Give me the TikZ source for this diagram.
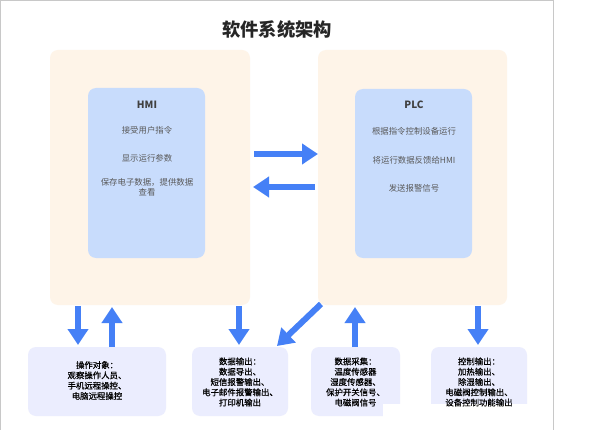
\documentclass[tikz,border=0pt]{standalone}
\usepackage{fontspec}
\setmainfont{Noto Sans CJK SC}
\newfontfamily\botfont[FakeBold=0.6]{Noto Sans CJK SC}
\usetikzlibrary{arrows.meta}
\definecolor{peach}{HTML}{FEF4E8}
\definecolor{lblue}{HTML}{C8DCFC}
\definecolor{lav}{HTML}{EBEDFE}
\definecolor{arr}{HTML}{4580F6}
\definecolor{frame}{HTML}{C8C8C8}
\tikzset{
  outerbox/.style={fill=peach, rounded corners=8pt, inner sep=0pt},
  innerbox/.style={fill=lblue, rounded corners=8pt, inner sep=0pt},
  botbox/.style={fill=lav, rounded corners=8pt, inner sep=0pt},
  intext/.style={text=black!65, font=\fontsize{8.4}{10.5}\selectfont, align=center, inner sep=0pt},
  inhead/.style={text=black!75, font=\fontsize{10}{12}\selectfont\bfseries, inner sep=0pt},
  bottext/.style={text=black, font=\botfont\fontsize{8.4}{10.3}\selectfont, align=center, inner sep=0pt},
  bigarrow/.style={draw=arr, line width=6pt, -{Triangle[width=20pt,length=16pt]}},
}
\begin{document}
\begin{tikzpicture}[x=1pt,y=-1pt]
\useasboundingbox (0,0) rectangle (591,430);
\fill[white] (0,0) rectangle (591,430);
\draw[frame, line width=1pt] (0.5,431) -- (0.5,0.5) -- (553,0.5) -- (553,431);
\node[font=\fontsize{18.3}{20}\selectfont\bfseries, text=black!85, inner sep=0pt] (title) at (277,30) {软件系统架构};
% outer boxes
\node[outerbox, minimum width=200pt, minimum height=255pt] (hmio) at (150,177.5) {};
\node[outerbox, minimum width=189pt, minimum height=255pt] (plco) at (412.5,177.5) {};
% inner boxes
\node[innerbox, minimum width=117pt, minimum height=170pt] (hmii) at (146.5,173) {};
\node[innerbox, minimum width=117pt, minimum height=169pt] (plci) at (413.5,173.5) {};
\node[inhead] (hmih) at (147,105) {HMI};
\node[intext] (h1) at (147,130) {接受用户指令};
\node[intext] (h2) at (147,158) {显示运行参数};
\node[intext] (h3) at (147,187.5) {保存电子数据，提供数据\\查看};
\node[inhead] (plch) at (414,105) {PLC};
\node[intext] (p1) at (414,131) {根据指令控制设备运行};
\node[intext] (p2) at (414,160) {将运行数据反馈给HMI};
\node[intext] (p3) at (414,188) {发送报警信号};
% bottom boxes
\node[botbox, minimum width=138pt, minimum height=69pt] (b1) at (97,381.5) {};
\node[botbox, minimum width=96pt, minimum height=69pt] (b2) at (240,381.5) {};
\node[botbox, minimum width=89pt, minimum height=69pt] (b3) at (355.5,381.5) {};
\node[botbox, minimum width=96pt, minimum height=69pt] (b4) at (479,381.5) {};
\fill[white] (383,404) rectangle (552,431);
\node[bottext] (t1) at (97,380.5) {操作对象：\\观察操作人员、\\手机远程操控、\\电脑远程操控};
\node[bottext] (t2) at (240,382) {数据输出：\\数据导出、\\短信报警输出、\\电子邮件报警输出、\\打印机输出};
\node[bottext] (t3) at (355.5,382) {数据采集：\\温度传感器\\湿度传感器、\\保护开关信号、\\电磁阀信号};
\node[bottext] (t4) at (479,382) {控制输出：\\加热输出、\\除湿输出、\\电磁阀控制输出、\\设备控制功能输出};
% arrow end coordinates
\coordinate (m1s) at (254,154); \coordinate (m1e) at (318,154);
\coordinate (m2s) at (315,187); \coordinate (m2e) at (253,187);
\coordinate (a1s) at (78,306); \coordinate (a1e) at (78,345);
\coordinate (a2s) at (112,347); \coordinate (a2e) at (112,307);
\coordinate (a3s) at (239,306); \coordinate (a3e) at (239,345);
\coordinate (a4s) at (321,304); \coordinate (a4e) at (277,346);
\coordinate (a5s) at (355,347); \coordinate (a5e) at (355,307);
\coordinate (a6s) at (478,306); \coordinate (a6e) at (478,345);
\draw[bigarrow] (m1s) -- (m1e);
\draw[bigarrow] (m2s) -- (m2e);
\draw[bigarrow] (a1s) -- (a1e);
\draw[bigarrow] (a2s) -- (a2e);
\draw[bigarrow] (a3s) -- (a3e);
\draw[bigarrow] (a4s) -- (a4e);
\draw[bigarrow] (a5s) -- (a5e);
\draw[bigarrow] (a6s) -- (a6e);
\end{tikzpicture}
\end{document}
